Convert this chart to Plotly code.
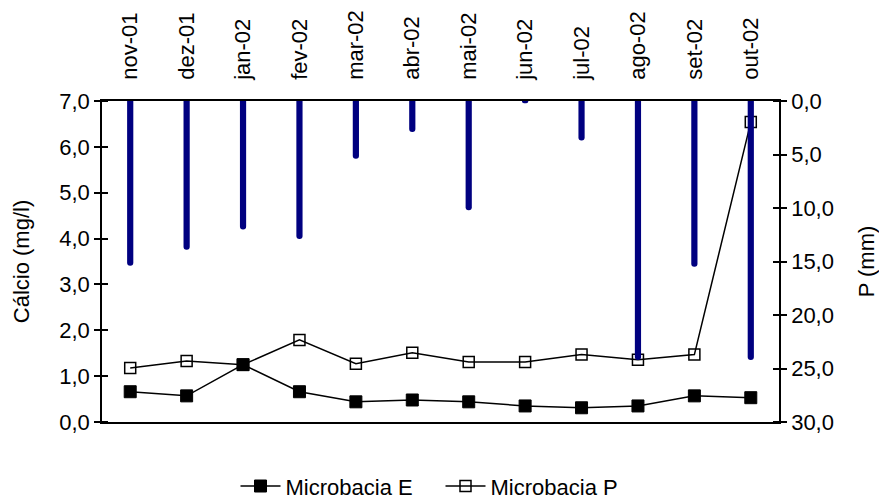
import plotly.graph_objects as go

months = ["nov-01", "dez-01", "jan-02", "fev-02", "mar-02", "abr-02",
          "mai-02", "jun-02", "jul-02", "ago-02", "set-02", "out-02"]
precip_mm = [15.4, 13.9, 12.0, 12.9, 5.4, 2.9, 10.2, 0.2, 3.7, 24.2, 15.5, 24.2]
calcio_E = [0.66, 0.57, 1.25, 0.66, 0.44, 0.48, 0.44, 0.35, 0.31, 0.35, 0.57, 0.53]
calcio_P = [1.18, 1.33, 1.25, 1.79, 1.27, 1.51, 1.31, 1.31, 1.47, 1.36, 1.47, 6.54]

left_ticks = [0, 1, 2, 3, 4, 5, 6, 7]
right_ticks = [0, 5, 10, 15, 20, 25, 30]

FONT = "Liberation Sans, Arial, sans-serif"
FS = 22

fig = go.Figure()
fig.add_trace(go.Scatter(
    x=months, y=calcio_E, name="Microbacia E", mode="lines+markers",
    line=dict(color="black", width=1.5),
    marker=dict(symbol="square", size=12, color="black",
                line=dict(color="black", width=1)),
    yaxis="y"))
fig.add_trace(go.Scatter(
    x=months, y=calcio_P, name="Microbacia P", mode="lines+markers",
    line=dict(color="black", width=1.5),
    marker=dict(symbol="square-open", size=11, color="black",
                line=dict(color="black", width=1.5)),
    yaxis="y"))
fig.add_trace(go.Bar(
    x=months, y=precip_mm, name="P", yaxis="y2", width=0.11,
    marker=dict(color="#000080", line=dict(width=0), cornerradius=3),
    showlegend=False))

fig.update_layout(
    width=879, height=501,
    margin=dict(l=102, r=100, t=101, b=79, autoexpand=False),
    paper_bgcolor="white", plot_bgcolor="white",
    font=dict(family=FONT, size=FS, color="black"),
    showlegend=True,
    legend=dict(orientation="h", x=0.5, xanchor="center", y=-0.2, yanchor="middle",
                font=dict(size=FS), itemwidth=40, traceorder="normal",
                entrywidth=150, entrywidthmode="pixels"),
    xaxis=dict(side="top", type="category", tickangle=-90, ticks="",
               range=[-0.5, 11.5], ticklabelstandoff=15,
               showline=True, linecolor="black", linewidth=1.5, mirror=True,
               showgrid=False, zeroline=False, tickfont=dict(size=FS)),
    yaxis=dict(range=[0, 7], tickvals=left_ticks,
               ticktext=[f"{v:.1f}".replace(".", ",") for v in left_ticks],
               ticks="outside", ticklen=6, tickwidth=1.5, tickcolor="black",
               minor=dict(ticks="inside", tickvals=left_ticks, ticklen=6,
                          tickwidth=1.5, tickcolor="black"),
               showline=True, linecolor="black", linewidth=1.5,
               showgrid=False, zeroline=False, tickfont=dict(size=FS),
               title=dict(text="Cálcio (mg/l)", standoff=24, font=dict(size=FS))),
    yaxis2=dict(range=[30, 0], overlaying="y", side="right",
                tickvals=right_ticks,
                ticktext=[f"{v:.1f}".replace(".", ",") for v in right_ticks],
                ticks="outside", ticklen=6, tickwidth=1.5, tickcolor="black",
                minor=dict(ticks="inside", tickvals=right_ticks, ticklen=6,
                           tickwidth=1.5, tickcolor="black"),
                showline=True, linecolor="black", linewidth=1.5,
                showgrid=False, zeroline=False, tickfont=dict(size=FS),
                title=dict(text="P (mm)", standoff=26, font=dict(size=FS))),
    barmode="overlay",
)

fig.write_html("out.html")
